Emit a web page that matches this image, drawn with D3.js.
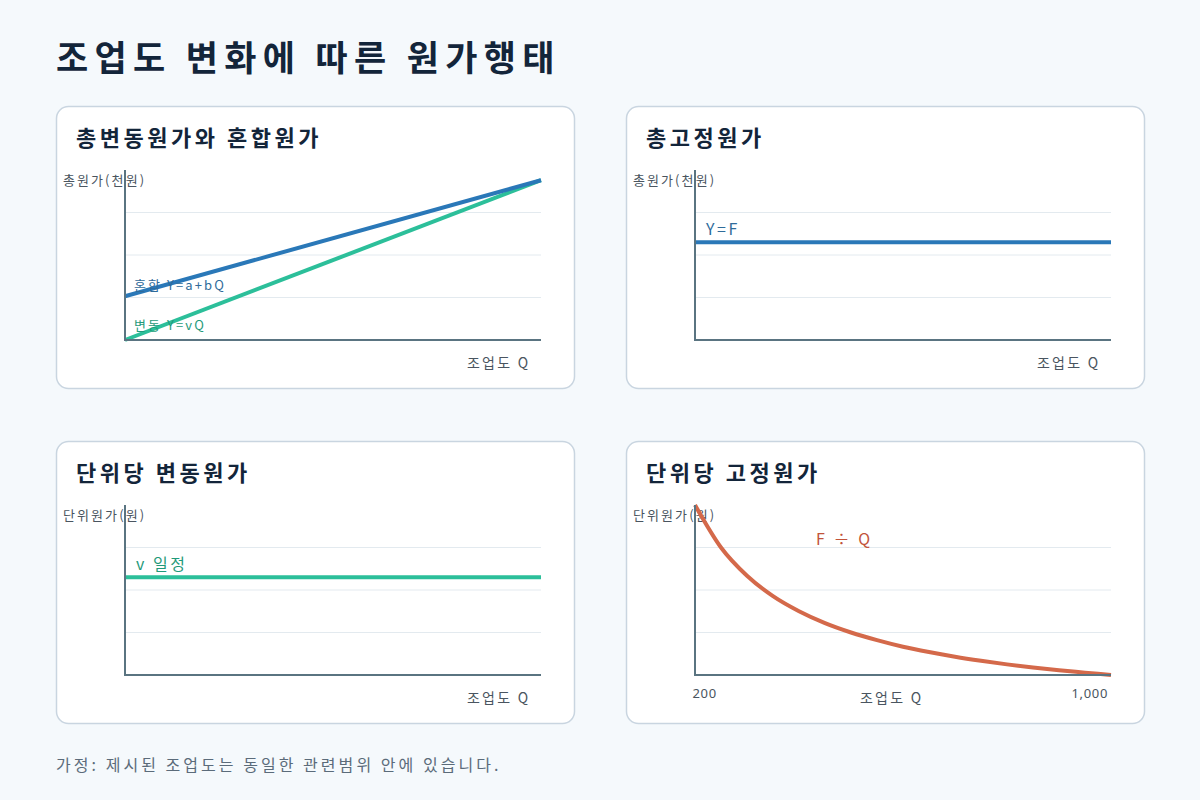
<!DOCTYPE html>
<html><head><meta charset="utf-8">
<script src="https://cdn.jsdelivr.net/npm/d3@7"></script>
<style>
body{margin:0;background:#f5f9fc;font-family:"Noto Sans CJK KR","Noto Sans",sans-serif;}
text{letter-spacing:0.16em;}
</style></head><body>
<svg id="c" width="1200" height="800"></svg>
<script>
// data
const panelTitles = ["총변동원가와 혼합원가", "총고정원가", "단위당 변동원가", "단위당 고정원가"]
const yLabels = ["총원가(천원)", "총원가(천원)", "단위원가(원)", "단위원가(원)"]
const qRange = [0, 1000]
const mixedCost = [1.03, 3.76]     // at Q=0, Q=1000
const variableCost = [0, 3.76]
const fixedCost = [2.3, 2.3]
const unitVariable = [2.3, 2.3]
const unitQ = [200, 250, 300, 350, 400, 450, 500, 550, 600, 650, 700, 750, 800, 850, 900, 950, 1000]
const unitFixed = [1000, 800, 667, 571, 500, 444, 400, 364, 333, 308, 286, 267, 250, 235, 222, 211, 200]

const svg = d3.select("#c")
svg.append("text").attr("x", 56).attr("y", 71).attr("font-size", 35).attr("font-weight", 700)
  .style("letter-spacing", "0.18em").attr("fill", "#13253a").text("조업도 변화에 따른 원가행태")
svg.append("text").attr("x", 56).attr("y", 771).attr("font-size", 16).attr("fill", "#5b6b7a")
  .style("letter-spacing", "0.19em").text("가정: 제시된 조업도는 동일한 관련범위 안에 있습니다.")

const origins = [[56, 106], [626, 106], [56, 441], [626, 441]]

function panel(i, draw) {
  const [ox, oy] = origins[i]
  const g = svg.append("g").attr("transform", `translate(${ox},${oy})`)
  g.append("rect").attr("x", 0.5).attr("y", 0.5).attr("width", 518).attr("height", 282).attr("rx", 12)
    .attr("fill", "#fff").attr("stroke", "#c9d5e0").attr("stroke-width", 1.5)
  g.append("text").attr("x", 20).attr("y", 40).attr("font-size", 22).attr("font-weight", 700)
    .attr("fill", "#13253a").text(panelTitles[i])
  g.append("text").attr("x", 7).attr("y", 79).attr("font-size", 13).attr("fill", "#4a5560").text(yLabels[i])
  const p = g.append("g").attr("transform", "translate(69,0)")
  const w = 416
  p.selectAll(".grid").data([1, 2, 3]).enter().append("line")
    .attr("x1", 0).attr("x2", w).attr("y1", d => 234 - d * 42.5).attr("y2", d => 234 - d * 42.5)
    .attr("stroke", "#e3eaef")
  draw(p, w)
  p.append("line").attr("x1", 0).attr("x2", 0).attr("y1", 64).attr("y2", 235).attr("stroke", "#5a7481").attr("stroke-width", 2)
  p.append("line").attr("x1", 0).attr("x2", w).attr("y1", 234).attr("y2", 234).attr("stroke", "#5a7481").attr("stroke-width", 2)
  return p
}

const yS = d3.scaleLinear().domain([0, 4]).range([234, 64])

function linePanel(i, series, labels) {
  const p = panel(i, (p, w) => {
    const x = d3.scaleLinear().domain(qRange).range([0, w])
    series.forEach(s => {
      p.append("path").datum(s.v).attr("fill", "none").attr("stroke", s.c).attr("stroke-width", 4)
        .attr("d", d3.line().x((d, k) => x(qRange[k])).y(d => yS(d)))
    })
    labels.forEach(l => p.append("text").attr("x", l.x).attr("y", l.y).attr("font-size", l.s || 13)
      .attr("fill", l.c).text(l.t))
  })
  p.append("text").attr("x", 342).attr("y", 262).attr("font-size", 14)
    .attr("fill", "#4a5560").text("조업도 Q")
}

linePanel(0, [{v: variableCost, c: "#2cbf9a"}, {v: mixedCost, c: "#2a78b8"}],
  [{x: 9, y: 184, t: "혼합 Y=a+bQ", c: "#2f6b9a"}, {x: 9, y: 224, t: "변동 Y=vQ", c: "#1f9a7a"}])
linePanel(1, [{v: fixedCost, c: "#2a78b8"}], [{x: 11, y: 129, t: "Y=F", c: "#2f6b9a", s: 16}])
linePanel(2, [{v: unitVariable, c: "#2cbf9a"}], [{x: 11, y: 129, t: "v 일정", c: "#1f9a7a", s: 16}])

const p4 = panel(3, (p, w) => {
  const x = d3.scaleLinear().domain([200, 1000]).range([0, w])
  const y = d3.scaleLinear().domain([200, 1000]).range([234, 64])
  p.append("path").datum(unitQ).attr("fill", "none").attr("stroke", "#d4694a").attr("stroke-width", 4)
    .attr("d", d3.line().curve(d3.curveMonotoneX).x(d => x(d)).y((d, k) => y(unitFixed[k])))
  p.append("text").attr("x", 121).attr("y", 104).attr("font-size", 16).attr("fill", "#c2533a").text("F ÷ Q")
  const ax = p.append("g").attr("transform", "translate(0,234)")
    .call(d3.axisBottom(x).tickValues([200, 1000]).tickSize(0).tickPadding(14).tickFormat(d3.format(",")))
  ax.select(".domain").remove()
  ax.selectAll("text").attr("font-size", 13).attr("fill", "#4a5560").attr("font-family", "Noto Sans, sans-serif")
    .style("letter-spacing", "0.05em")
  ax.selectAll(".tick text").attr("text-anchor", "start").attr("dx", (d, k) => k ? -40 : -3)
})
p4.append("text").attr("x", 165).attr("y", 262).attr("font-size", 14)
  .attr("fill", "#4a5560").text("조업도 Q")
</script>
</body></html>
